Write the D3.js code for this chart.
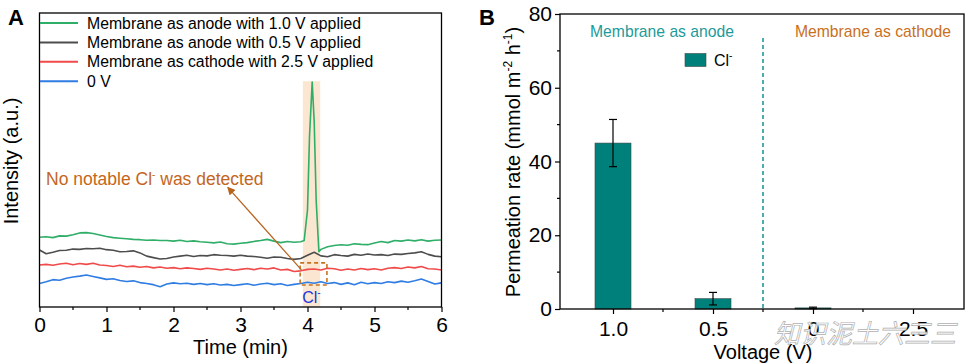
<!DOCTYPE html>
<html>
<head>
<meta charset="utf-8">
<script src="https://cdn.jsdelivr.net/npm/d3@7"></script>
<style>
  body { margin: 0; background: #fff; }
  svg { font-family: "Liberation Sans", Arial, sans-serif; }
</style>
</head>
<body>
<div id="chart"></div>
<script>
// ---- data ----
// panel A: time grid (min), intensity traces (a.u.)
var time = d3.range(0, 61).map(function(i) { return i / 10; });

var green = [23.7,23.9,23.6,24.2,24.1,24.6,25.2,25.3,25.0,24.5,
             24.0,23.6,23.4,23.2,23.0,22.9,22.7,22.8,22.6,22.6,
             22.4,22.7,22.3,22.5,22.2,22.0,21.8,22.1,21.5,21.4,
             21.7,21.9,22.3,22.6,23.0,22.4,21.9,22.3,22.0,22.2,
             null,null,19.6,20.5,20.9,21.2,21.0,21.5,21.3,21.2,
             21.8,22.3,21.9,22.6,22.4,22.8,22.5,22.9,22.4,22.7,22.8];
// extra samples across the Cl- peak of the green trace
var peakTime = [3.95, 4.0, 4.03, 4.07, 4.1, 4.13, 4.17];
var peakGreen = [22.6, 33, 58, 76.5, 63, 36, 18.8];

var gray = [19.4,18.1,18.6,19.2,19.3,19.7,19.6,19.9,19.8,20.0,
            19.5,19.3,18.8,18.9,19.1,18.4,17.3,16.8,16.3,16.5,
            17.0,17.3,17.6,17.2,17.5,17.4,17.8,17.6,17.5,17.3,
            17.6,17.3,17.2,16.9,16.6,17.0,16.9,16.5,16.2,16.5,
            17.6,18.6,17.4,17.1,17.8,17.5,17.3,17.9,17.6,18.0,
            17.7,17.8,17.5,18.0,17.9,18.2,18.4,18.8,17.9,17.3,17.1];

var red = [14.3,14.5,14.2,14.6,14.9,14.4,14.8,14.5,14.9,14.3,
           14.1,13.8,14.2,13.7,13.9,13.5,13.8,13.3,13.6,13.2,
           13.4,13.0,13.3,13.1,12.8,13.2,12.9,12.6,12.9,12.5,
           12.8,13.1,12.7,13.2,12.9,13.3,12.6,12.8,12.1,12.3,
           12.8,12.9,12.6,13.2,13.0,12.5,12.9,12.6,13.1,12.7,
           13.0,12.6,13.2,13.4,13.1,13.6,13.3,13.8,13.0,12.9,12.6];

var blue = [8.0,8.6,9.3,9.1,9.8,10.2,10.5,10.9,10.4,9.9,
            9.4,9.6,9.0,8.7,8.9,8.3,8.0,7.6,6.9,7.8,
            8.2,7.9,8.1,7.7,8.0,7.6,7.9,7.5,7.7,7.3,
            7.6,7.9,7.4,7.8,8.1,7.6,7.9,7.3,7.7,8.0,
            8.4,8.1,8.6,8.0,8.3,7.7,8.2,7.6,8.4,7.9,
            8.3,8.0,8.6,8.3,8.8,8.4,8.9,9.5,8.7,7.8,8.2];

var legendLabels = ["Membrane as anode with 1.0 V applied",
                    "Membrane as anode with 0.5 V applied",
                    "Membrane as cathode with 2.5 V applied",
                    "0 V"];
var traceColors = ["#2fae68", "#4d4d4d", "#f04a4a", "#2f7de3"];

// panel B: permeation rate of Cl-
var voltages = ["1.0", "0.5", "0", "2.5"];
var rates = [45.0, 2.8, 0.3, 0];
var rateErr = [6.4, 1.7, 0.2, 0];

var xTicksA = [0, 1, 2, 3, 4, 5, 6];
var yTicksB = [0, 20, 40, 60, 80];

// ---- svg ----
var svg = d3.select("#chart").append("svg")
    .attr("width", 970)
    .attr("height", 364);

var orange = "#c4661c";

// ================= Panel A =================
var xA = d3.scaleLinear().domain([0, 6]).range([39.5, 441.5]);
var yA = d3.scaleLinear().domain([0, 100]).range([307, 13]);

var gA = svg.append("g");

// peak highlight band
gA.append("rect")
    .attr("x", xA(3.93))
    .attr("width", xA(4.19) - xA(3.93))
    .attr("y", yA(76.8))
    .attr("height", yA(0) - yA(76.8))
    .attr("fill", "#fbe4cc")
    .attr("opacity", 0.9);

var lineA = d3.line()
    .defined(function(d) { return d[1] != null; })
    .x(function(d) { return xA(d[0]); })
    .y(function(d) { return yA(d[1]); });

// green trace: grid points + peak points, sorted by time
var greenPts = time.map(function(t, i) { return [t, green[i]]; })
    .filter(function(d) { return d[1] != null; })
    .concat(peakTime.map(function(t, i) { return [t, peakGreen[i]]; }))
    .sort(function(a, b) { return a[0] - b[0]; });

var traces = [
    blue.map(function(v, i) { return [time[i], v]; }),
    red.map(function(v, i) { return [time[i], v]; }),
    gray.map(function(v, i) { return [time[i], v]; }),
    greenPts
];
var traceCol = [traceColors[3], traceColors[2], traceColors[1], traceColors[0]];

gA.selectAll("path.trace")
    .data(traces)
    .enter()
    .append("path")
    .attr("class", "trace")
    .attr("d", lineA)
    .attr("fill", "none")
    .attr("stroke", function(d, i) { return traceCol[i]; })
    .attr("stroke-width", 1.6)
    .attr("stroke-linejoin", "round");

// dashed box round the Cl- position
gA.append("rect")
    .attr("x", xA(3.89))
    .attr("width", xA(4.29) - xA(3.89))
    .attr("y", yA(15.0))
    .attr("height", yA(7.5) - yA(15.0))
    .attr("fill", "none")
    .attr("stroke", "#c8731f")
    .attr("stroke-width", 1.6)
    .attr("stroke-dasharray", "4,3");

// arrow
svg.append("defs").append("marker")
    .attr("id", "arrowhead")
    .attr("viewBox", "0 0 10 10")
    .attr("refX", 9)
    .attr("refY", 5)
    .attr("markerWidth", 8)
    .attr("markerHeight", 8)
    .attr("markerUnits", "userSpaceOnUse")
    .attr("orient", "auto")
    .append("path")
    .attr("d", "M0,0 L10,5 L0,10 z")
    .attr("fill", "#b8621c");

gA.append("line")
    .attr("x1", xA(3.91)).attr("y1", yA(12.6))
    .attr("x2", xA(2.81)).attr("y2", yA(40.7))
    .attr("stroke", "#b8621c")
    .attr("stroke-width", 1.2)
    .attr("marker-end", "url(#arrowhead)");

var note = gA.append("text")
    .attr("x", 46)
    .attr("y", 184.5)
    .attr("fill", orange)
    .attr("font-size", 17.5);
note.append("tspan").text("No notable Cl");
note.append("tspan").attr("font-size", 10).attr("dy", -7).text("-");
note.append("tspan").attr("dy", 7).text(" was detected");

var clA = gA.append("text")
    .attr("x", xA(3.92))
    .attr("y", 303)
    .attr("fill", "#2233e0")
    .attr("font-size", 16);
clA.append("tspan").text("Cl");
clA.append("tspan").attr("font-size", 10).attr("dy", -7).text("-");

// frame
gA.append("rect")
    .attr("x", xA(0)).attr("y", yA(100))
    .attr("width", xA(6) - xA(0)).attr("height", yA(0) - yA(100))
    .attr("fill", "none").attr("stroke", "#000").attr("stroke-width", 1.3);

// x axis
var axA = gA.append("g")
    .attr("transform", "translate(0," + yA(0) + ")")
    .call(d3.axisBottom(xA).tickValues(xTicksA).tickSize(5).tickPadding(5)
        .tickFormat(d3.format("d")));
axA.select(".domain").remove();
axA.selectAll("text").attr("font-size", 21).attr("fill", "#000")
    .attr("font-family", "Liberation Sans, Arial, sans-serif");
axA.selectAll("line").attr("stroke-width", 1.2);

gA.append("g")
    .attr("transform", "translate(0," + yA(0) + ")")
    .selectAll("line")
    .data([0.5, 1.5, 2.5, 3.5, 4.5, 5.5])
    .enter().append("line")
    .attr("x1", xA).attr("x2", xA)
    .attr("y1", 0).attr("y2", 3)
    .attr("stroke", "#000").attr("stroke-width", 1.2);

gA.append("text")
    .attr("x", 240.5).attr("y", 354)
    .attr("text-anchor", "middle")
    .attr("font-size", 20)
    .text("Time (min)");

gA.append("text")
    .attr("transform", "translate(18,161) rotate(-90)")
    .attr("text-anchor", "middle")
    .attr("font-size", 20)
    .text("Intensity (a.u.)");

// legend
var legA = gA.selectAll("g.leg")
    .data(legendLabels)
    .enter().append("g")
    .attr("class", "leg")
    .attr("transform", function(d, i) { return "translate(40," + (23 + i * 19.4) + ")"; });
legA.append("line")
    .attr("x1", 0).attr("x2", 38)
    .attr("stroke", function(d, i) { return traceColors[i]; })
    .attr("stroke-width", 2);
legA.append("text")
    .attr("x", 47).attr("dy", "0.35em")
    .attr("font-size", 15.8)
    .text(function(d) { return d; });

svg.append("text")
    .attr("x", 8).attr("y", 25)
    .attr("font-size", 22).attr("font-weight", "bold")
    .text("A");

// ================= Panel B =================
var xB = d3.scaleLinear().domain([0.47, 4.51]).range([560, 964]);
var yB = d3.scaleLinear().domain([0, 80]).range([309, 14]);
var gB = svg.append("g");

var barW = 0.36;
gB.selectAll("rect.bar")
    .data(rates)
    .enter().append("rect")
    .attr("class", "bar")
    .attr("x", function(d, i) { return xB(i + 1 - barW / 2); })
    .attr("width", xB(barW) - xB(0))
    .attr("y", function(d) { return yB(d); })
    .attr("height", function(d) { return yB(0) - yB(d); })
    .attr("fill", "#00807a")
    .attr("stroke", "#3a4a48")
    .attr("stroke-width", 0.6);

// error bars
var eb = gB.selectAll("g.err")
    .data(rates.filter(function(d, i) { return rateErr[i] > 0; }))
    .enter().append("g")
    .attr("class", "err");
eb.append("line")
    .attr("x1", function(d, i) { return xB(i + 1); })
    .attr("x2", function(d, i) { return xB(i + 1); })
    .attr("y1", function(d, i) { return yB(d + rateErr[i]); })
    .attr("y2", function(d, i) { return yB(d - rateErr[i]); })
    .attr("stroke", "#000").attr("stroke-width", 1.2);
eb.selectAll("line.cap")
    .data(function(d, i) { return [[i, d + rateErr[i]], [i, d - rateErr[i]]]; })
    .enter().append("line")
    .attr("class", "cap")
    .attr("x1", function(d) { return xB(d[0] + 1) - 4; })
    .attr("x2", function(d) { return xB(d[0] + 1) + 4; })
    .attr("y1", function(d) { return yB(d[1]); })
    .attr("y2", function(d) { return yB(d[1]); })
    .attr("stroke", "#000").attr("stroke-width", 1.2);

// divider between anode and cathode
gB.append("line")
    .attr("x1", xB(2.5)).attr("x2", xB(2.5))
    .attr("y1", yB(73.5)).attr("y2", yB(0))
    .attr("stroke", "#1d9a9a")
    .attr("stroke-width", 1.6)
    .attr("stroke-dasharray", "4,3");

gB.append("text")
    .attr("x", xB(1.49)).attr("y", 36.5)
    .attr("text-anchor", "middle")
    .attr("font-size", 15.7)
    .attr("fill", "#1d9a9a")
    .text("Membrane as anode");
gB.append("text")
    .attr("x", xB(3.6)).attr("y", 36.5)
    .attr("text-anchor", "middle")
    .attr("font-size", 15.7)
    .attr("fill", "#c8701e")
    .text("Membrane as cathode");

// legend
gB.append("rect")
    .attr("x", 685).attr("y", 53.5)
    .attr("width", 21).attr("height", 13)
    .attr("fill", "#00807a")
    .attr("stroke", "#3a4a48").attr("stroke-width", 0.6);
var clB = gB.append("text")
    .attr("x", 714).attr("y", 66)
    .attr("font-size", 16);
clB.append("tspan").text("Cl");
clB.append("tspan").attr("font-size", 10).attr("dy", -7).text("-");

// frame
gB.append("rect")
    .attr("x", xB(0.47)).attr("y", yB(80))
    .attr("width", xB(4.51) - xB(0.47)).attr("height", yB(0) - yB(80))
    .attr("fill", "none").attr("stroke", "#000").attr("stroke-width", 1.3);

// y axis
var ayB = gB.append("g")
    .attr("transform", "translate(" + xB(0.47) + ",0)")
    .call(d3.axisLeft(yB).tickValues(yTicksB).tickSize(5).tickPadding(3));
ayB.select(".domain").remove();
ayB.selectAll("text").attr("font-size", 21).attr("fill", "#000")
    .attr("font-family", "Liberation Sans, Arial, sans-serif");
ayB.selectAll("line").attr("stroke-width", 1.2);
gB.append("g")
    .selectAll("line")
    .data([10, 30, 50, 70])
    .enter().append("line")
    .attr("x1", xB(0.47) - 3).attr("x2", xB(0.47))
    .attr("y1", yB).attr("y2", yB)
    .attr("stroke", "#000").attr("stroke-width", 1.2);

// x axis
var axB = gB.append("g")
    .attr("transform", "translate(0," + yB(0) + ")")
    .call(d3.axisBottom(xB).tickValues([1, 2, 3, 4]).tickSize(5).tickPadding(7)
        .tickFormat(function(d) { return voltages[d - 1]; }));
axB.select(".domain").remove();
axB.selectAll("text").attr("font-size", 21).attr("fill", "#000")
    .attr("font-family", "Liberation Sans, Arial, sans-serif");
axB.selectAll("line").attr("stroke-width", 1.2);
gB.append("g")
    .attr("transform", "translate(0," + yB(0) + ")")
    .selectAll("line")
    .data([1.5, 2.5, 3.5])
    .enter().append("line")
    .attr("x1", xB).attr("x2", xB)
    .attr("y1", 0).attr("y2", 3)
    .attr("stroke", "#000").attr("stroke-width", 1.2);

gB.append("text")
    .attr("x", 763).attr("y", 359)
    .attr("text-anchor", "middle")
    .attr("font-size", 20)
    .text("Voltage (V)");

var ylB = gB.append("text")
    .attr("transform", "translate(520,162) rotate(-90)")
    .attr("text-anchor", "middle")
    .attr("font-size", 20);
ylB.append("tspan").text("Permeation rate (mmol m");
ylB.append("tspan").attr("font-size", 12).attr("dy", -8).text("-2");
ylB.append("tspan").attr("dy", 8).text(" h");
ylB.append("tspan").attr("font-size", 12).attr("dy", -8).text("-1");
ylB.append("tspan").attr("dy", 8).text(")");

svg.append("text")
    .attr("x", 479).attr("y", 25)
    .attr("font-size", 22).attr("font-weight", "bold")
    .text("B");

// site watermark, drawn over the axis labels as in the source image
svg.append("text")
    .attr("x", 865).attr("y", 343)
    .attr("text-anchor", "middle")
    .attr("font-family", "Noto Sans CJK SC")
    .attr("font-size", 26)
    .attr("font-style", "italic")
    .attr("fill", "#fff")
    .attr("fill-opacity", 0.85)
    .attr("stroke", "#b0b0b0")
    .attr("stroke-width", 0.7)
    .text("知识泥土六三三");
</script>
</body>
</html>
